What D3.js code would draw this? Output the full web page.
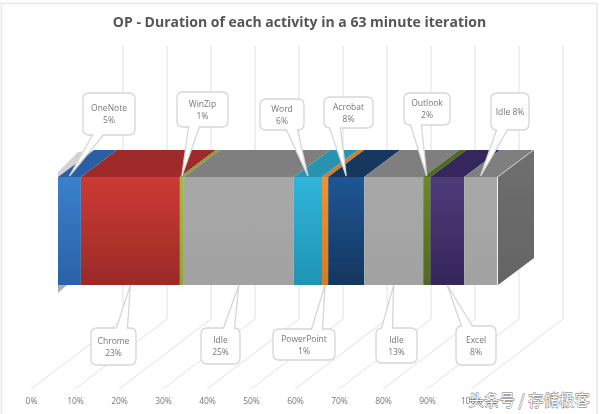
<!DOCTYPE html>
<html>
<head>
<meta charset="utf-8">
<script src="https://cdn.jsdelivr.net/npm/d3@7"></script>
<style>
	html, body { margin: 0; padding: 0; background: #fff; }
	svg { display: block; }
	text { font-family: "Open Sans", "Noto Sans", sans-serif; }
</style>
</head>
<body>
<div id="grafico"></div>
<script>
var titulo = "OP - Duration of each activity in a 63 minute iteration";
var actividades = ["OneNote", "Chrome", "WinZip", "Idle", "Word", "PowerPoint", "Acrobat", "Idle", "Outlook", "Excel", "Idle"];
var duraciones = [5.2, 22.5, 0.9, 25, 6.4, 1.4, 8.2, 13.4, 1.6, 7.7, 7.5];
var porcentajes = ["5%", "23%", "1%", "25%", "6%", "1%", "8%", "13%", "2%", "8%", "8%"];
var ticks = [0, 10, 20, 30, 40, 50, 60, 70, 80, 90, 100];

var colorClaro = ["#3b80cb", "#cc3a34", "#9dbb3e", "#a8a8a8", "#30b5da", "#f29230", "#1f5794", "#a8a8a8", "#6a8a24", "#503b7a", "#a8a8a8"];
var colorOscuro = ["#2a62a6", "#9b2a27", "#8aa636", "#a2a2a2", "#1f94b5", "#d97b20", "#14365f", "#a2a2a2", "#4f6b1a", "#35265a", "#a2a2a2"];
var colorTecho = ["#2a5fa5", "#9e2b2a", "#83a03a", "#7f7f7f", "#2a93b0", "#c98030", "#15375f", "#7f7f7f", "#4f6b22", "#35275c", "#7f7f7f"];

// Cajas de las etiquetas, en el mismo orden que actividades: [x, y, ancho, alto, centro del pico]
var cajas = [
	[83, 93, 52, 42, 98], [91, 328, 45, 37, 122], [177, 92, 51, 35, 194], [201, 328, 39, 36, 229],
	[260, 99, 44, 31, 292], [273, 329, 62, 31, 317], [324, 97, 49, 31, 335], [376, 328, 41, 35, 387],
	[404, 93, 46, 32, 416], [456, 326, 40, 39, 467], [491, 93, 38, 37, 502]
];

var ancho = 600, alto = 414;
var fondo = { dx: 36, dy: -27 };
var frente = { arriba: 177, abajo: 285 };

var svg = d3.select("#grafico").append("svg").attr("width", ancho).attr("height", alto);
var defs = svg.append("defs");

var suave = defs.append("filter").attr("id", "suave");
suave.append("feGaussianBlur").attr("stdDeviation", 0.5);

var x = d3.scaleLinear().domain([0, 100]).range([58, 498]);
var xPiso = d3.scaleLinear().domain([0, 100]).range([31, 471]);
var xPared = d3.scaleLinear().domain([0, 100]).range([123, 563]);

// Acumulados para cada tramo
var tramos = [];
duraciones.reduce(function (acum, d, i) {
	tramos.push({ i: i, desde: acum, hasta: acum + d });
	return acum + d;
}, 0);

// Marco de la imagen
svg.append("path")
	.attr("d", "M1.5,414V3.5H597V414")
	.attr("fill", "none").attr("stroke", "#e8e8e8").attr("stroke-width", 1.5);

var g = svg.append("g").attr("filter", "url(#suave)");

g.append("text")
	.attr("x", 299.5).attr("y", 27)
	.attr("text-anchor", "middle")
	.attr("font-size", 14).attr("font-weight", 700).attr("fill", "#555")
	.text(titulo);

// Rejilla: piso y pared del fondo
g.append("g").selectAll("path").data(ticks).enter().append("path")
	.attr("d", function (t) {
		return "M" + xPiso(t) + ",389L" + xPared(t) + ",319V46";
	})
	.attr("fill", "none").attr("stroke", "#e0e0e0").attr("stroke-width", 1);

// Eje con las etiquetas de porcentaje
var eje = g.append("g").attr("transform", "translate(0,394)")
	.call(d3.axisBottom(xPiso).tickValues(ticks).tickSize(0).tickPadding(4).tickFormat(function (d) { return d + "%"; }));
eje.select(".domain").remove();
eje.selectAll("text").attr("font-size", 8.5).attr("fill", "#777").style("font-family", '"Open Sans", sans-serif');

// Sombra de la barra
g.append("path")
	.attr("d", "M58,285L67,285L58,293Z").attr("fill", "#8c8c8c").attr("opacity", 0.7);
g.append("path")
	.attr("d", "M58,177L58,172L78,152L93,150Z").attr("fill", "#b5b5b5").attr("opacity", 0.6);

// Gradientes del frente
tramos.forEach(function (t) {
	var gr = defs.append("linearGradient").attr("id", "frente" + t.i)
		.attr("x1", 0).attr("y1", 0).attr("x2", 0).attr("y2", 1);
	gr.append("stop").attr("offset", "0%").attr("stop-color", colorClaro[t.i]);
	gr.append("stop").attr("offset", "100%").attr("stop-color", colorOscuro[t.i]);
});

var ladoGrad = defs.append("linearGradient").attr("id", "lado")
	.attr("x1", 0).attr("y1", 0).attr("x2", 0).attr("y2", 1);
ladoGrad.append("stop").attr("offset", "0%").attr("stop-color", "#6f6f6f");
ladoGrad.append("stop").attr("offset", "100%").attr("stop-color", "#646464");

// Cara de arriba
g.append("g").selectAll("path").data(tramos).enter().append("path")
	.attr("d", function (t) {
		var a = x(t.desde), b = x(t.hasta);
		return "M" + a + "," + frente.arriba + "L" + b + "," + frente.arriba +
			"L" + (b + fondo.dx) + "," + (frente.arriba + fondo.dy) +
			"L" + (a + fondo.dx) + "," + (frente.arriba + fondo.dy) + "Z";
	})
	.attr("fill", function (t) { return colorTecho[t.i]; });

// Cara derecha
g.append("path")
	.attr("d", "M" + x(100) + "," + frente.arriba + "L" + (x(100) + fondo.dx) + "," + (frente.arriba + fondo.dy) +
		"V" + (frente.abajo + fondo.dy) + "L" + x(100) + "," + frente.abajo + "Z")
	.attr("fill", "url(#lado)");

// Cara del frente
g.append("g").selectAll("rect").data(tramos).enter().append("rect")
	.attr("x", function (t) { return x(t.desde); })
	.attr("y", frente.arriba)
	.attr("width", function (t) { return x(t.hasta) - x(t.desde); })
	.attr("height", frente.abajo - frente.arriba)
	.attr("fill", function (t) { return "url(#frente" + t.i + ")"; });

// Etiquetas tipo globo, alternando arriba y abajo de la barra
var globos = g.append("g").selectAll("g").data(tramos).enter().append("g");

globos.append("path")
	.attr("d", function (t) {
		var c = cajas[t.i], r = 6;
		var arriba = t.i % 2 == 0;
		var punta = x((t.desde + t.hasta) / 2);
		var py = arriba ? frente.arriba - 1 : frente.abajo;
		var cx = c[4], med = 5.5;
		var X = c[0], Y = c[1], W = c[2], H = c[3];
		var d = "M" + (X + r) + "," + Y;
		if (!arriba) d += "L" + (cx - med) + "," + Y + "L" + punta + "," + py + "L" + (cx + med) + "," + Y;
		d += "L" + (X + W - r) + "," + Y + "Q" + (X + W) + "," + Y + " " + (X + W) + "," + (Y + r);
		d += "V" + (Y + H - r) + "Q" + (X + W) + "," + (Y + H) + " " + (X + W - r) + "," + (Y + H);
		if (arriba) d += "L" + (cx + med) + "," + (Y + H) + "L" + punta + "," + py + "L" + (cx - med) + "," + (Y + H);
		d += "L" + (X + r) + "," + (Y + H) + "Q" + X + "," + (Y + H) + " " + X + "," + (Y + H - r);
		d += "V" + (Y + r) + "Q" + X + "," + Y + " " + (X + r) + "," + Y + "Z";
		return d;
	})
	.attr("fill", "#fff").attr("stroke", "#d6d6d6").attr("stroke-width", 1.3);

globos.each(function (t) {
	var c = cajas[t.i];
	var cx = c[0] + c[2] / 2, cy = c[1] + c[3] / 2;
	var txt = d3.select(this).append("text")
		.attr("text-anchor", "middle").attr("font-size", 8.5).attr("fill", "#777");
	if (t.i == 10) {
		// La ultima etiqueta va en una sola linea
		txt.attr("x", cx).attr("y", cy + 3).text(actividades[t.i] + " " + porcentajes[t.i]);
	} else {
		txt.append("tspan").attr("x", cx).attr("y", cy - 3).text(actividades[t.i]);
		txt.append("tspan").attr("x", cx).attr("y", cy + 9).text(porcentajes[t.i]);
	}
});

// Marca de agua
svg.append("text")
	.attr("x", 590).attr("y", 406)
	.attr("text-anchor", "end")
	.attr("font-size", 15.5)
	.style("font-family", '"Noto Sans CJK SC"')
	.attr("fill", "#fff").attr("stroke", "#666").attr("stroke-width", 0.8)
	.attr("paint-order", "stroke")
	.text("头条号 / 存储极客");
</script>
</body>
</html>
